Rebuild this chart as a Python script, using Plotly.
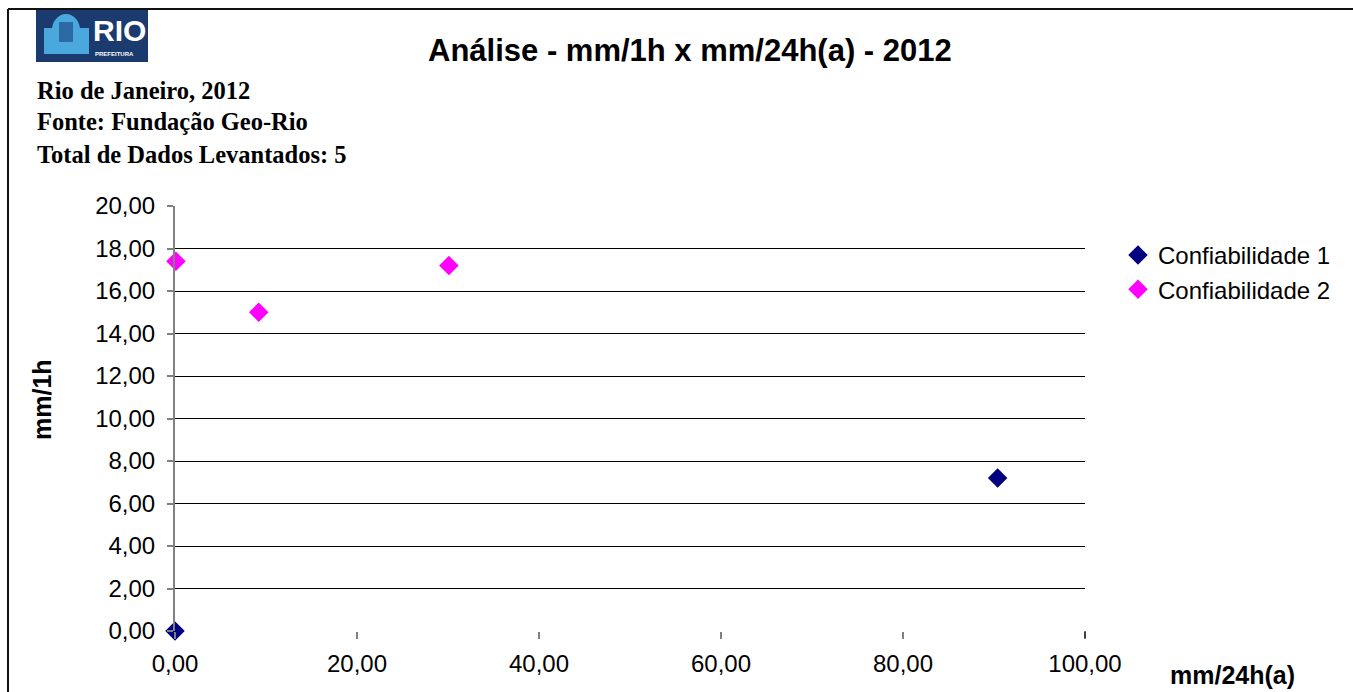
import plotly.graph_objects as go

# Dados levantados (mm/24h(a) x mm/1h)
conf1_x = [0.0, 90.4]
conf1_y = [0.0, 7.2]
conf2_x = [0.1, 9.2, 30.1]
conf2_y = [17.4, 15.0, 17.2]

x_ticks = [0, 20, 40, 60, 80, 100]
x_tick_text = ["0,00", "20,00", "40,00", "60,00", "80,00", "100,00"]
y_ticks = [0, 2, 4, 6, 8, 10, 12, 14, 16, 18, 20]
y_tick_text = ["0,00", "2,00", "4,00", "6,00", "8,00", "10,00",
               "12,00", "14,00", "16,00", "18,00", "20,00"]

W, H = 1353, 692
ML, MR, MT, MB = 175, 268, 206, 61
PW, PH = W - ML - MR, H - MT - MB

SANS = "Liberation Sans, Arial"
SERIF = "Liberation Serif, Times New Roman"


def px(x):
    return (x - ML) / PW


def py(y):
    return (H - MB - y) / PH


fig = go.Figure()
fig.add_trace(go.Scatter(
    x=conf1_x, y=conf1_y, mode="markers", name="Confiabilidade 1",
    marker=dict(symbol="diamond", size=15, color="#000080"),
    cliponaxis=False,
))
fig.add_trace(go.Scatter(
    x=conf2_x, y=conf2_y, mode="markers", name="Confiabilidade 2",
    marker=dict(symbol="diamond", size=15, color="#FF00FF"),
    cliponaxis=False,
))

axis_font = dict(family=SANS, size=24, color="#000")
fig.update_xaxes(
    range=[0, 100], tickvals=x_ticks, ticktext=x_tick_text,
    showgrid=False, zeroline=False, showline=False,
    ticks="outside", ticklen=7, tickcolor="#808080", tickwidth=2,
    tickfont=axis_font, ticklabelstandoff=4,
)
fig.update_yaxes(
    range=[0, 20], tickvals=y_ticks, ticktext=y_tick_text,
    showgrid=True, gridcolor="#000", gridwidth=1, zeroline=False,
    showline=True, linecolor="#808080", linewidth=2,
    ticks="outside", ticklen=6, tickcolor="#808080", tickwidth=2,
    tickfont=axis_font, ticklabelstandoff=7,
)

shapes = [
    # moldura do gráfico
    dict(type="line", xref="paper", yref="paper", x0=px(8), x1=px(W + 5), y0=py(9), y1=py(9),
         line=dict(color="#111", width=2)),
    dict(type="line", xref="paper", yref="paper", x0=px(8), x1=px(8), y0=py(9), y1=py(H + 5),
         line=dict(color="#111", width=2)),
    # marca no fim do eixo x
    dict(type="line", xref="paper", yref="paper", x0=1, x1=1, y0=0, y1=py(H - MB + 7),
         line=dict(color="#000", width=1)),
    # logotipo
    dict(type="rect", xref="paper", yref="paper", x0=px(36), x1=px(148), y0=py(10), y1=py(62),
         fillcolor="#1b3b6f", line=dict(width=0), layer="above"),
    dict(type="circle", xref="paper", yref="paper", x0=px(52), x1=px(80), y0=py(14), y1=py(46),
         fillcolor="#4aa8df", line=dict(width=0), layer="above"),
    dict(type="rect", xref="paper", yref="paper", x0=px(44), x1=px(89), y0=py(28), y1=py(54),
         fillcolor="#4aa8df", line=dict(width=0), layer="above"),
    dict(type="rect", xref="paper", yref="paper", x0=px(59), x1=px(73), y0=py(22), y1=py(42),
         fillcolor="#2b6aa3", line=dict(width=0), layer="above"),
]

annotations = [
    dict(text="<b>RIO</b>", x=px(91), y=py(31), xref="paper", yref="paper",
         xanchor="left", yanchor="middle", showarrow=False,
         font=dict(family=SANS, size=30, color="#fff")),
    dict(text="<b>PREFEITURA</b>", x=px(93), y=py(54), xref="paper", yref="paper",
         xanchor="left", yanchor="middle", showarrow=False,
         font=dict(family=SANS, size=6, color="#fff")),
    dict(text="<b>Análise - mm/1h x mm/24h(a) - 2012</b>", x=px(690), y=py(50),
         xref="paper", yref="paper", xanchor="center", yanchor="middle", showarrow=False,
         font=dict(family=SANS, size=31, color="#000")),
    dict(text="<b>Rio de Janeiro, 2012</b>", x=px(35), y=py(90),
         xref="paper", yref="paper", xanchor="left", yanchor="middle", showarrow=False,
         font=dict(family=SERIF, size=24.5, color="#000")),
    dict(text="<b>Fonte: Fundação Geo-Rio</b>", x=px(35), y=py(122),
         xref="paper", yref="paper", xanchor="left", yanchor="middle", showarrow=False,
         font=dict(family=SERIF, size=24.5, color="#000")),
    dict(text="<b>Total de Dados Levantados: 5</b>", x=px(35), y=py(155),
         xref="paper", yref="paper", xanchor="left", yanchor="middle", showarrow=False,
         font=dict(family=SERIF, size=24.5, color="#000")),
    dict(text="<b>mm/1h</b>", x=px(42), y=py(400), textangle=-90,
         xref="paper", yref="paper", xanchor="center", yanchor="middle", showarrow=False,
         font=dict(family=SANS, size=25, color="#000")),
    dict(text="<b>mm/24h(a)</b>", x=px(1168), y=py(675),
         xref="paper", yref="paper", xanchor="left", yanchor="middle", showarrow=False,
         font=dict(family=SANS, size=25, color="#000")),
]

fig.update_layout(
    width=W, height=H,
    margin=dict(l=ML, r=MR, t=MT, b=MB, autoexpand=False),
    paper_bgcolor="#fff", plot_bgcolor="#fff",
    showlegend=True,
    legend=dict(x=px(1118), y=py(233), xanchor="left", yanchor="top",
                font=dict(family=SANS, size=24, color="#000"),
                itemwidth=30, tracegroupgap=0, bgcolor="rgba(0,0,0,0)"),
    shapes=shapes,
    annotations=annotations,
)

fig.write_html("out.html")
